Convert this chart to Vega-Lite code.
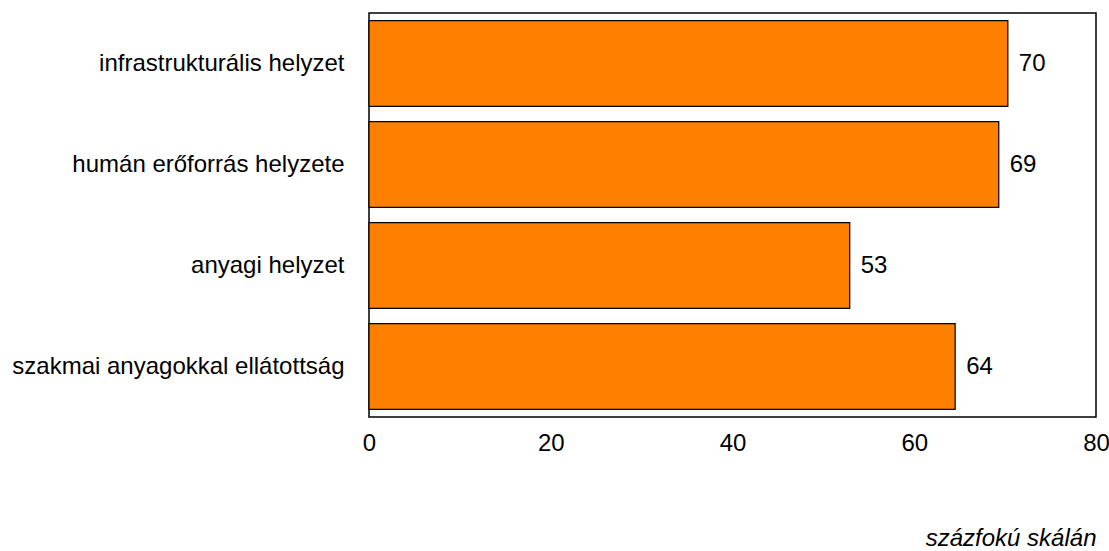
{
  "$schema": "https://vega.github.io/schema/vega-lite/v6.json",
  "width": 727,
  "height": 404,
  "autosize": {"type": "none"},
  "padding": {"left": 369, "top": 13, "right": 13, "bottom": 134},
  "background": "white",
  "config": {
    "view": {"stroke": "#000000", "strokeWidth": 1.5},
    "font": "Liberation Sans"
  },
  "data": {
    "values": [
      {"kategoria": "infrastrukturális helyzet", "ertek": 70.3, "cimke": "70"},
      {"kategoria": "humán erőforrás helyzete", "ertek": 69.3, "cimke": "69"},
      {"kategoria": "anyagi helyzet", "ertek": 52.9, "cimke": "53"},
      {"kategoria": "szakmai anyagokkal ellátottság", "ertek": 64.5, "cimke": "64"}
    ]
  },
  "encoding": {
    "y": {
      "field": "kategoria",
      "type": "nominal",
      "sort": null,
      "scale": {"paddingInner": 0.15, "paddingOuter": 0.075},
      "axis": {
        "title": null,
        "domain": false,
        "ticks": false,
        "labelFont": "Liberation Sans",
        "labelFontSize": 24,
        "labelColor": "#000000",
        "labelPadding": 25,
        "labelLimit": 400
      }
    },
    "x": {
      "field": "ertek",
      "type": "quantitative",
      "scale": {"domain": [0, 80], "nice": false},
      "axis": {
        "title": "százfokú skálán",
        "titleAnchor": "end",
        "titleFont": "Liberation Sans",
        "titleFontSize": 24,
        "titleFontStyle": "italic",
        "titleFontWeight": "normal",
        "titleColor": "#000000",
        "titlePadding": 71,
        "values": [0, 20, 40, 60, 80],
        "grid": false,
        "domain": false,
        "ticks": false,
        "labelFont": "Liberation Sans",
        "labelFontSize": 24,
        "labelColor": "#000000",
        "labelPadding": 14,
        "labelFlush": false
      }
    }
  },
  "layer": [
    {
      "mark": {"type": "bar", "color": "#FF8000", "stroke": "#000000", "strokeWidth": 1.2}
    },
    {
      "mark": {
        "type": "text",
        "align": "left",
        "baseline": "middle",
        "dx": 11,
        "font": "Liberation Sans",
        "fontSize": 24,
        "color": "#000000"
      },
      "encoding": {"text": {"field": "cimke", "type": "nominal"}}
    }
  ]
}
